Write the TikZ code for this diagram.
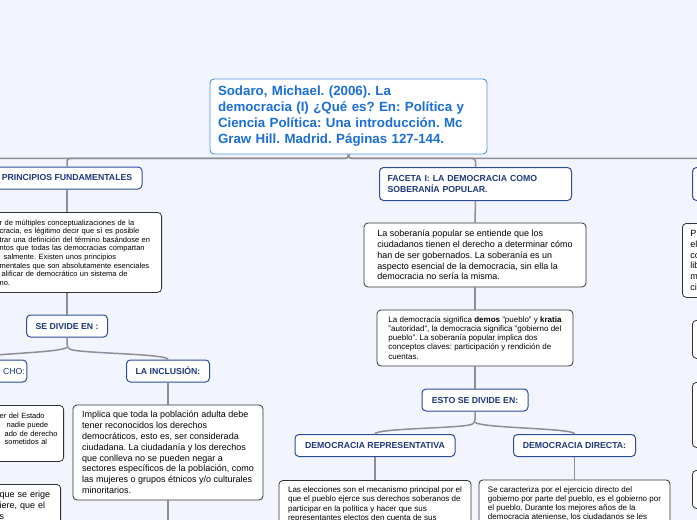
\documentclass[tikz,border=0pt]{standalone}
\usepackage{fontspec}
\setmainfont{Liberation Sans}
\frenchspacing
\usetikzlibrary{positioning}
\definecolor{bgblue}{RGB}{242,245,254}
\definecolor{titlefg}{RGB}{26,110,216}
\definecolor{titleln}{RGB}{80,145,230}
\definecolor{headfg}{RGB}{30,55,125}
\definecolor{headln}{RGB}{45,75,155}
\definecolor{wiregray}{RGB}{142,142,150}
\tikzset{
  box/.style={draw, fill=white, rounded corners=4pt, align=left, inner sep=6pt},
  titlebox/.style={box, draw=titleln, line width=0.9pt, text=titlefg, font=\fontsize{13.3}{16}\selectfont\bfseries},
  head/.style={box, draw=headln, line width=1pt, text=headfg, align=center, minimum height=22, font=\fontsize{8.7}{11.5}\selectfont\bfseries},
  txt/.style={box, draw=black!80, line width=0.8pt, font=\fontsize{9}{10.8}\selectfont},
  small/.style={txt, font=\fontsize{8}{9.1}\selectfont},
  tiny/.style={txt, font=\fontsize{7.5}{8.6}\selectfont},
  wire/.style={draw=wiregray, line width=1.5pt, rounded corners=3pt},
}

\begin{document}
\begin{tikzpicture}[x=1pt, y=-1pt]
  \useasboundingbox (0,0) rectangle (697,520);
  \fill[bgblue] (0,0) rectangle (697,520);
  \clip (0,0) rectangle (697,520);

  \node[titlebox, text width=261, inner xsep=8, minimum height=75] (root) at (348.5,116.5)
    {Sodaro, Michael. (2006). La\\democracia (I) ¿Qué es? En: Política y\\Ciencia Política: Una introducción. Mc\\Graw Hill. Madrid. Páginas 127-144.};
  \coordinate (farleft) at (-120,167);

  \node[head, minimum width=150] (princ) at (67,178) {PRINCIPIOS FUNDAMENTALES};
  \node[tiny, anchor=north east, text width=158, inner xsep=4, minimum height=80] (def) at (162,212)
    {r de múltiples conceptualizaciones de la\\cracia, es légitimo decir que sí es posible\\trar una definición del término basándose en\\ntos que todas las democracias compartan\\\hspace*{4pt}salmente. Existen unos principios\\mentales que son absolutamente esenciales\\\hspace*{2pt}alificar de democrático un sistema de\\no.};
  \node[head, minimum width=81] (divide) at (67,326) {SE DIVIDE EN :};
  \node[head, font=\fontsize{8.7}{11.5}\selectfont, anchor=east, text width=100, align=right, inner xsep=2] (cho) at (27.3,371) {CHO:};
  \node[head, minimum width=83] (incl) at (168,371) {LA INCLUSIÓN:};
  \node[txt, minimum width=190, minimum height=95] (incltxt) at (168,452.5)
    {Implica que toda la población adulta debe\\tener reconocidos los derechos\\democráticos, esto es, ser considerada\\ciudadana. La ciudadanía y los derechos\\que conlleva no se pueden negar a\\sectores específicos de la población, como\\las mujeres o grupos étnicos y/o culturales\\minoritarios.};
  \coordinate (inclend) at (168,540);
  \node[tiny, font=\fontsize{7.5}{8.8}\selectfont, anchor=north east, text width=60, inner xsep=4, minimum height=56] (estado) at (64,405)
    {er del Estado\\\hspace*{7pt}nadie puede\\\hspace*{5pt}ado de derecho\\\hspace*{5pt}sometidos al\\\mbox{}};
  \node[txt, anchor=north east, text width=57, inner xsep=4, minimum height=42] (erige) at (61,484)
    {que se erige\\iere, que el\\s};

  \node[head, anchor=north west, text width=176, inner xsep=8, align=left, minimum height=33] (faceta) at (379,167)
    {FACETA I: LA DEMOCRACIA COMO\\SOBERANÍA POPULAR.};
  \node[txt, minimum width=222, minimum height=64] (sob) at (475,255)
    {La soberanía popular se entiende que los\\ciudadanos tienen el derecho a determinar cómo\\han de ser gobernados. La soberanía es un\\aspecto esencial de la democracia, sin ella la\\democracia no sería la misma.};
  \node[small, minimum width=196, minimum height=56] (demos) at (475,338)
    {La democracia significa \textbf{demos} "pueblo" y \textbf{kratia}\\"autoridad", la democracia significa "gobierno del\\pueblo". La soberanía popular implica dos\\conceptos claves: participación y rendición de\\cuentas.};
  \node[head, minimum width=106] (esto) at (475,400) {ESTO SE DIVIDE EN:};
  \node[head, minimum width=160] (rep) at (375,445.5) {DEMOCRACIA REPRESENTATIVA};
  \node[head, minimum width=122] (dir) at (574.5,445.5) {DEMOCRACIA DIRECTA:};
  \node[small, anchor=north, minimum width=192, minimum height=48] (reptxt) at (375,480)
    {Las elecciones son el mecanismo principal por el\\que el pueblo ejerce sus derechos soberanos de\\participar en la política y hacer que sus\\representantes electos den cuenta de sus};
  \node[small, anchor=north, minimum width=191, minimum height=48] (dirtxt) at (574.5,479.5)
    {Se caracteriza por el ejercicio directo del\\gobierno por parte del pueblo, es el gobierno por\\el pueblo. Durante los mejores años de la\\democracia ateniense, los ciudadanos se les};

  \node[head, anchor=north west, minimum width=191, minimum height=33] (faceta2) at (692,167) {};
  \node[txt, anchor=north west, text width=206, inner xsep=8, minimum height=74] (rtxt) at (682,223)
    {P\\el\\co\\lib\\m\\ci};
  \node[txt, anchor=north west, minimum width=190, minimum height=38] (rbox1) at (692,320) {};
  \node[txt, anchor=north west, minimum width=190, minimum height=65] (rbox2) at (692,382) {};
  \node[txt, anchor=north west, minimum width=190, minimum height=38] (rbox3) at (692,470) {};

  \draw[wire] (root.south) -- ++(0,4) -| (farleft);
  \draw[wire] (root.south) -- ++(0,4) -| (princ.north);
  \draw[wire] (root.south) -- ++(0,4) -| (faceta.north);
  \draw[wire] (root.south) -- ++(0,4) -| (faceta2.north);
  \draw[wire] (princ.south) -- (princ.south |- def.north);
  \draw[wire] (princ.south |- def.south) -- (divide.north);
  \draw[wire] (divide.south) -- ++(0,10) coordinate (jdiv) .. controls +(10,6) and +(0,-6) .. (incl.north);
  \draw[wire] (jdiv) .. controls +(-10,6) and +(0,-6) .. (cho.north);
  \draw[wire] (incl.south) -- (incltxt.north);
  \draw[wire] (incltxt.south) -- (inclend);
  \draw[wire] (faceta.south) -- (sob.north);
  \draw[wire] (sob.south) -- (demos.north);
  \draw[wire] (demos.south) -- (esto.north);
  \draw[wire] (esto.south) -- ++(0,11) coordinate (jesto) .. controls +(-10,6) and +(0,-6) .. (rep.north);
  \draw[wire] (jesto) .. controls +(10,6) and +(0,-6) .. (dir.north);
  \draw[wire] (rep.south) -- (reptxt.north);
  \draw[wire] (dir.south) -- (dirtxt.north);
\end{tikzpicture}
\end{document}
